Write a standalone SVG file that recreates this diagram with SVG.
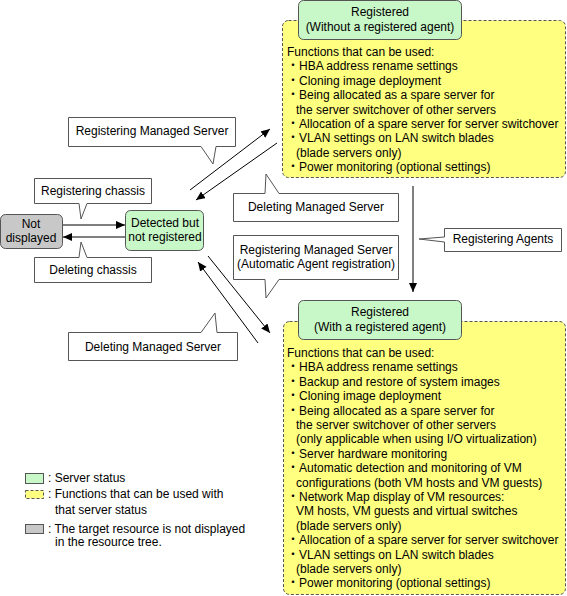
<svg xmlns="http://www.w3.org/2000/svg" width="567" height="596" viewBox="0 0 567 596">
<style>
text{font-family:"Liberation Sans",Arial,"Noto Sans CJK JP",sans-serif;font-size:12px;fill:#000}
.c{text-anchor:middle}
.st{fill:#c8f7c8;stroke:#555;stroke-width:1}
.fn{fill:#ffff80;stroke:#555;stroke-width:1;stroke-dasharray:3,2}
.nd{fill:#c8c8c8;stroke:#555;stroke-width:1}
.co{fill:#fff;stroke:#555;stroke-width:1}
.ar{fill:none;stroke:#000;stroke-width:1;marker-end:url(#ah)}
</style>
<defs>
<marker id="ah" markerUnits="userSpaceOnUse" markerWidth="11" markerHeight="9" refX="9" refY="4" orient="auto">
<path d="M0,0 L9,4 L0,8 Z" fill="#000"/>
</marker>
</defs>
<rect width="567" height="596" fill="#fff"/>

<g id="connectors">
<path class="ar" d="M63,225 L125,225"/>
<path class="ar" d="M125,237 L63,237"/>
<path class="ar" d="M190,190 L270,129"/>
<path class="ar" d="M277,143 L196,200"/>
<path class="ar" d="M208,256 L270,333"/>
<path class="ar" d="M258,343 L198,262"/>
<path class="ar" d="M413,186 L413,292"/>
</g>

<g id="func-without">
<rect class="fn" x="282.5" y="20.5" width="283" height="157" rx="6"/>
<text x="287" y="56">Functions that can be used:</text>
<text x="287" y="70.4">・HBA address rename settings</text>
<text x="287" y="84.8">・Cloning image deployment</text>
<text x="287" y="99.2">・Being allocated as a spare server for</text>
<text x="296" y="113.6">the server switchover of other servers</text>
<text x="287" y="128">・Allocation of a spare server for server switchover</text>
<text x="287" y="142.4">・VLAN settings on LAN switch blades</text>
<text x="296" y="156.8">(blade servers only)</text>
<text x="287" y="171.2">・Power monitoring (optional settings)</text>
</g>

<g id="registered-without">
<rect class="st" x="298.5" y="0.5" width="163" height="39" rx="5"/>
<text class="c" x="380" y="16">Registered</text>
<text class="c" x="380" y="31">(Without a registered agent)</text>
</g>

<g id="func-with">
<rect class="fn" x="283.5" y="321.5" width="282" height="273" rx="6"/>
<text x="287" y="357">Functions that can be used:</text>
<text x="287" y="371.4">・HBA address rename settings</text>
<text x="287" y="385.8">・Backup and restore of system images</text>
<text x="287" y="400.2">・Cloning image deployment</text>
<text x="287" y="414.6">・Being allocated as a spare server for</text>
<text x="296" y="429">the server switchover of other servers</text>
<text x="296" y="443.4">(only applicable when using I/O virtualization)</text>
<text x="287" y="457.8">・Server hardware monitoring</text>
<text x="287" y="472.2">・Automatic detection and monitoring of VM</text>
<text x="296" y="486.6">configurations (both VM hosts and VM guests)</text>
<text x="287" y="501">・Network Map display of VM resources:</text>
<text x="296" y="515.4">VM hosts, VM guests and virtual switches</text>
<text x="296" y="529.8">(blade servers only)</text>
<text x="287" y="544.2">・Allocation of a spare server for server switchover</text>
<text x="287" y="558.6">・VLAN settings on LAN switch blades</text>
<text x="296" y="573">(blade servers only)</text>
<text x="287" y="587.4">・Power monitoring (optional settings)</text>
</g>

<g id="registered-with">
<rect class="st" x="298.5" y="300.5" width="163" height="39" rx="5"/>
<text class="c" x="380" y="316">Registered</text>
<text class="c" x="380" y="331">(With a registered agent)</text>
</g>

<g id="not-displayed">
<rect class="nd" x="0.5" y="214.5" width="62" height="34" rx="5"/>
<text class="c" x="31" y="228">Not</text>
<text class="c" x="31" y="242">displayed</text>
</g>

<g id="detected">
<rect class="st" x="125.5" y="210.5" width="78" height="40" rx="5"/>
<text class="c" x="165" y="227">Detected but</text>
<text class="c" x="165" y="241">not registered</text>
</g>

<g id="callout-reg-managed-top">
<path class="co" d="M68.5,117.5 H235.5 V146.5 H216 L213,164 L201,146.5 H68.5 Z"/>
<text class="c" x="152" y="135">Registering Managed Server</text>
</g>

<g id="callout-reg-chassis">
<path class="co" d="M34.5,178.5 H151.5 V203.5 H87 L81,219 L79,203.5 H34.5 Z"/>
<text class="c" x="93" y="195">Registering chassis</text>
</g>

<g id="callout-del-chassis">
<path class="co" d="M34.5,257.5 H79 L81,242 L87,257.5 H151.5 V282.5 H34.5 Z"/>
<text class="c" x="93" y="274">Deleting chassis</text>
</g>

<g id="callout-del-managed-mid">
<path class="co" d="M233.5,193.5 H265 L266,174 L279,193.5 H398.5 V221.5 H233.5 Z"/>
<text class="c" x="316" y="211">Deleting Managed Server</text>
</g>

<g id="callout-reg-managed-auto">
<path class="co" d="M233.5,235.5 H398.5 V279.5 H279 L266,298 L265,279.5 H233.5 Z"/>
<text class="c" x="316" y="254">Registering Managed Server</text>
<text class="c" x="316" y="268">(Automatic Agent registration)</text>
</g>

<g id="callout-reg-agents">
<path class="co" d="M444.5,228.5 H561.5 V251.5 H444.5 V242 L419,239 L444.5,237 Z"/>
<text class="c" x="503" y="243">Registering Agents</text>
</g>

<g id="callout-del-managed-low">
<path class="co" d="M68.5,332.5 H201 L215,313 L217,332.5 H237.5 V360.5 H68.5 Z"/>
<text class="c" x="153" y="351">Deleting Managed Server</text>
</g>

<g id="legend">
<rect class="st" x="25.5" y="473.5" width="18" height="10"/>
<text x="48" y="482">: Server status</text>
<rect class="fn" x="25.5" y="490.5" width="18" height="8"/>
<text x="48" y="498">: Functions that can be used with</text>
<text x="55" y="514">that server status</text>
<rect class="nd" x="25.5" y="524.5" width="18" height="9"/>
<text x="48" y="533">: The target resource is not displayed</text>
<text x="55" y="546">in the resource tree.</text>
</g>
</svg>
